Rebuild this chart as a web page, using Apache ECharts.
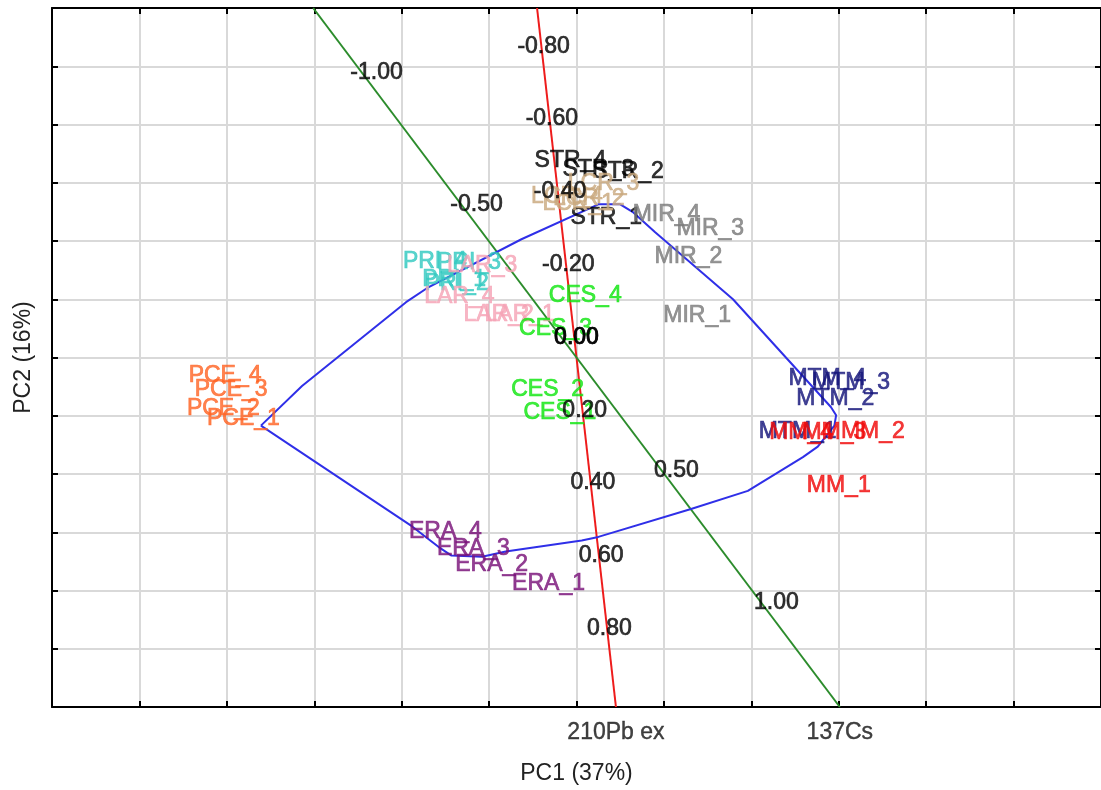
<!DOCTYPE html>
<html>
<head>
<meta charset="utf-8">
<title>PCA biplot</title>
<script src="https://cdn.jsdelivr.net/npm/echarts@6/dist/echarts.min.js"></script>
<style>
  html, body { margin: 0; padding: 0; background: #ffffff; }
  #chart { width: 1101px; height: 790px; }
</style>
</head>
<body>
<div id="chart"></div>
<script>
// ---- score plot extent (PC units) ----
const axisMin = -6;
const axisMax = 6;
const axisStep = 1;

// ---- sample scores ----
const sampleNames = [
  'STR_4', 'STR_3', 'STR_2', 'STR_1',
  'LCR_3', 'LCR_4', 'LCR_2', 'LCR_1',
  'PRI_4', 'PRI_3', 'PRI_1', 'PRI_2',
  'LAR_3', 'LAR_4', 'LAR_2', 'LAR_1',
  'CES_4', 'CES_3', 'CES_2', 'CES_1',
  'MIR_4', 'MIR_3', 'MIR_2', 'MIR_1',
  'MTM_4', 'MTM_3', 'MTM_2', 'MTM_1',
  'MM_4', 'MM_3', 'MM_2', 'MM_1',
  'ERA_4', 'ERA_3', 'ERA_2', 'ERA_1',
  'PCE_4', 'PCE_3', 'PCE_2', 'PCE_1'
];
const samplePC1 = [
  -0.07, 0.25, 0.59, 0.34,
  0.31, -0.11, 0.14, 0.02,
  -1.62, -1.23, -1.40, -1.37,
  -1.08, -1.34, -0.89, -0.65,
  0.10, -0.24, -0.33, -0.19,
  1.03, 1.53, 1.28, 1.38,
  2.87, 3.14, 2.96, 2.53,
  2.57, 2.95, 3.39, 3.00,
  -1.50, -1.18, -0.97, -0.32,
  -4.02, -3.95, -4.04, -3.81
];
const samplePC2 = [
  3.38, 3.23, 3.19, 2.40,
  2.99, 2.76, 2.73, 2.64,
  1.65, 1.63, 1.34, 1.27,
  1.58, 1.05, 0.73, 0.73,
  1.07, 0.50, -0.56, -0.95,
  2.46, 2.21, 1.73, 0.71,
  -0.37, -0.44, -0.71, -1.28,
  -1.29, -1.29, -1.28, -2.20,
  -2.99, -3.28, -3.55, -3.88,
  -0.32, -0.56, -0.88, -1.05
];

// ---- site colours, keyed by sample prefix ----
const sitePrefixes = ['STR', 'LCR', 'PRI', 'LAR', 'CES', 'MIR', 'MTM', 'MM', 'ERA', 'PCE'];
const siteColors = ['#000000', '#c9a97e', '#33c9c0', '#f5a3b5', '#11e611', '#7a7a7a', '#14147a', '#f00a0a', '#781078', '#ff6424'];

// ---- outline polygon around the sample cloud ----
const hullPC1 = [-3.61, -3.14, -1.95, -1.69, -0.63, 0.25, 0.50, 0.65, 0.90, 1.79, 2.91, 2.97, 2.95, 2.76, 2.59, 1.96, 1.31, 0.25, 0.06, -0.81, -1.08, -1.43, -1.58, -1.88, -3.61];
const hullPC2 = [-1.17, -0.49, 0.95, 1.21, 2.03, 2.63, 2.63, 2.49, 2.15, 1.00, -0.85, -0.99, -1.17, -1.53, -1.71, -2.29, -2.60, -3.08, -3.14, -3.33, -3.42, -3.40, -3.25, -2.90, -1.17];

// ---- variable axes (calibrated biplot axes) ----
const variableNames = ['210Pb ex', '137Cs'];
const variableColors = ['#ee1c1c', '#2c8c2c'];
// plot displacement (PC1, PC2) for one unit of each variable
const pbUnit = [0.47, -6.25];
const csUnit = [2.287, -4.555];
const pbTicks = [-0.80, -0.60, -0.40, -0.20, 0.00, 0.20, 0.40, 0.60, 0.80];
const csTicks = [-1.00, -0.50, 0.00, 0.50, 1.00];

const FONT = '"Liberation Sans", Arial, sans-serif';
const FS = 23;
const STROKE = 0.7;   // thin outline in the text colour to give the labels some weight

function colorFor(name) {
  const prefix = name.split('_')[0];
  return siteColors[sitePrefixes.indexOf(prefix)];
}

// end points of a calibrated axis where it meets the top and bottom frame
function axisEnds(unit) {
  const tTop = axisMax / unit[1];
  const tBot = axisMin / unit[1];
  return [[unit[0] * tTop, axisMax], [unit[0] * tBot, axisMin]];
}

const units = [pbUnit, csUnit];
const tickSets = [pbTicks, csTicks];

const series = [];

// outline polygon
series.push({
  type: 'line',
  data: hullPC1.map((x, i) => [x, hullPC2[i]]),
  symbol: 'none',
  smooth: false,
  lineStyle: { color: '#2f2fe8', width: 2 },
  z: 3,
  silent: true
});

// calibrated variable axes
units.forEach((u, k) => {
  series.push({
    type: 'line',
    data: axisEnds(u),
    symbol: 'none',
    lineStyle: { color: variableColors[k], width: 2 },
    z: 2,
    silent: true
  });
  // variable name below the frame, at the axis end
  series.push({
    type: 'scatter',
    data: [axisEnds(u)[1]],
    symbolSize: 1,
    itemStyle: { color: 'rgba(0,0,0,0)' },
    label: {
      show: true,
      position: 'bottom',
      distance: 14,
      formatter: variableNames[k],
      color: '#111',
      textBorderColor: '#111',
      textBorderWidth: 0.4,
      fontSize: FS,
      fontFamily: FONT
    },
    clip: false,
    z: 4,
    silent: true
  });
  // calibration marks along the axis
  series.push({
    type: 'scatter',
    data: tickSets[k].map(v => ({ value: [u[0] * v, u[1] * v], tick: v })),
    symbolSize: 1,
    itemStyle: { color: 'rgba(0,0,0,0)' },
    label: {
      show: true,
      position: 'top',
      distance: 8,
      formatter: p => p.data.tick.toFixed(2),
      color: '#000',
      textBorderColor: '#000',
      textBorderWidth: STROKE,
      fontSize: FS,
      fontFamily: FONT
    },
    z: 5,
    silent: true
  });
});

// sample labels
series.push({
  type: 'scatter',
  data: sampleNames.map((n, i) => ({
    name: n,
    value: [samplePC1[i], samplePC2[i]],
    label: { color: colorFor(n), textBorderColor: colorFor(n), textBorderWidth: STROKE }
  })),
  symbolSize: 1,
  itemStyle: { color: 'rgba(0,0,0,0)' },
  label: {
    show: true,
    position: 'inside',
    formatter: '{b}',
    fontSize: FS,
    fontFamily: FONT
  },
  z: 4,
  silent: true
});

const frameAxis = {
  type: 'value',
  min: axisMin,
  max: axisMax,
  interval: axisStep,
  axisLine: { show: true, onZero: false, lineStyle: { color: '#000', width: 2 } },
  axisTick: { show: true, inside: true, length: 6, lineStyle: { color: '#000', width: 2 } },
  axisLabel: { show: false },
  splitLine: { show: false }
};

const option = {
  backgroundColor: '#ffffff',
  animation: false,
  grid: { left: 52, top: 8, width: 1053, height: 701, containLabel: false },
  xAxis: [
    Object.assign({}, frameAxis, {
      position: 'bottom',
      splitLine: { show: true, lineStyle: { color: '#d9d9d9', width: 2 } },
      name: 'PC1 (37%)',
      nameLocation: 'middle',
      nameGap: 55,
      nameTextStyle: { color: '#222', fontSize: FS, fontFamily: FONT }
    }),
    Object.assign({}, frameAxis, { position: 'top' })
  ],
  yAxis: [
    Object.assign({}, frameAxis, {
      position: 'left',
      splitLine: { show: true, lineStyle: { color: '#d9d9d9', width: 2 } },
      name: 'PC2 (16%)',
      nameLocation: 'middle',
      nameGap: 17,
      nameTextStyle: { color: '#222', fontSize: FS, fontFamily: FONT }
    }),
    Object.assign({}, frameAxis, { position: 'right' })
  ],
  series: series
};

const chart = echarts.init(document.getElementById('chart'), null, { renderer: 'canvas' });
chart.setOption(option);
</script>
</body>
</html>
